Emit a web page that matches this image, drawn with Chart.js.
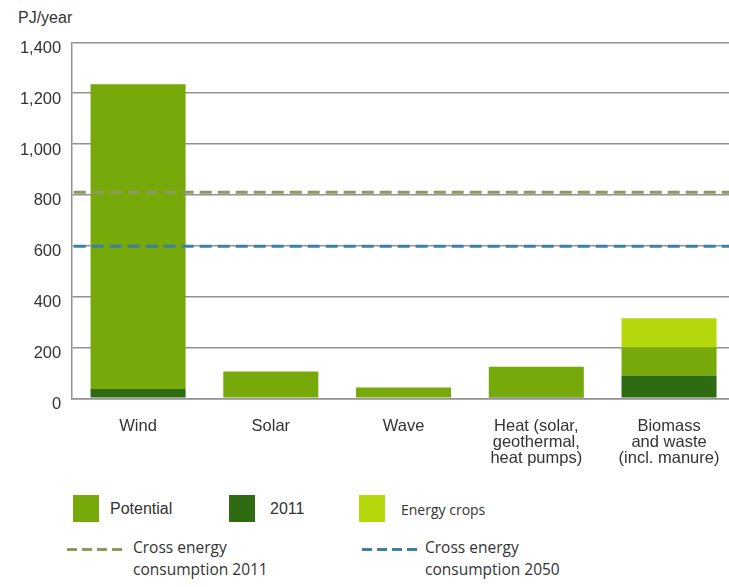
<!DOCTYPE html>
<html>
<head>
<meta charset="utf-8">
<script src="https://cdn.jsdelivr.net/npm/chart.js@4"></script>
<style>
    html, body { margin: 0; padding: 0; background: #ffffff; overflow: hidden; }
    body { width: 729px; height: 587px; position: relative; }
    #unit { position: absolute; left: 18px; top: 9px; font: 16px "Liberation Sans", Arial, sans-serif; color: #333333; }
    #chart-box { position: absolute; left: 0; top: 0; width: 740px; height: 470px; }
    .legend-item { position: absolute; color: #333333; white-space: nowrap; }
    .swatch { position: absolute; width: 26px; height: 27px; }
    .dash { position: absolute; height: 3px; width: 55px; }
</style>
</head>
<body>
<div id="unit">PJ/year</div>
<div id="chart-box"><canvas id="chart"></canvas></div>
<div id="legend"></div>
<script>
// Renewable energy potential per source, PJ/year
const categories = [
    ["Wind"],
    ["Solar"],
    ["Wave"],
    ["Heat (solar,", "geothermal,", "heat pumps)"],
    ["Biomass", "and waste", "(incl. manure)"]
];
const potential = [1235, 105, 42, 124, 200];
const production2011 = [37, 0, 0, 5, 90];
const energyCrops = [0, 0, 0, 0, 115];

// Gross energy consumption reference levels
const consumption2011 = 810;
const consumption2050 = 598;

const yTicks = { min: 0, max: 1400, step: 200 };

const colors = {
    potential: "#77a90b",
    production2011: "#2f6b10",
    energyCrops: "#b4d80c",
    consumption2011: "#8c9a5f",
    consumption2050: "#3e80a4",
    grid: "#929292",
    text: "#333333"
};

// Potential is stacked on top of what was already produced in 2011
const potentialRest = potential.map((value, i) => value - production2011[i]);

const referenceLines = [
    { value: consumption2011, color: colors.consumption2011 },
    { value: consumption2050, color: colors.consumption2050 }
];

const referenceLinePlugin = {
    id: "referenceLines",
    afterDatasetsDraw(chart) {
        const { ctx, chartArea, scales } = chart;
        ctx.save();
        ctx.lineWidth = 3;
        ctx.setLineDash([12, 6]);
        for (const line of referenceLines) {
            const y = scales.y.getPixelForValue(line.value);
            ctx.strokeStyle = line.color;
            ctx.beginPath();
            ctx.moveTo(chartArea.left + 2, y);
            ctx.lineTo(chartArea.right, y);
            ctx.stroke();
        }
        ctx.restore();
    }
};

const tickFont = { family: "'Liberation Sans', Arial, sans-serif", size: 16.5, lineHeight: 0.98 };

new Chart(document.getElementById("chart"), {
    type: "bar",
    data: {
        labels: categories,
        datasets: [
            { label: "2011", data: production2011, backgroundColor: colors.production2011 },
            { label: "Potential", data: potentialRest, backgroundColor: colors.potential },
            { label: "Energy crops", data: energyCrops, backgroundColor: colors.energyCrops }
        ]
    },
    options: {
        responsive: true,
        maintainAspectRatio: false,
        animation: false,
        layout: { padding: { top: 42.3, right: 4.6, bottom: 0, left: 0 } },
        datasets: { bar: { categoryPercentage: 1, barPercentage: 0.716, borderWidth: 0 } },
        plugins: {
            legend: { display: false },
            tooltip: { enabled: false }
        },
        scales: {
            x: {
                stacked: true,
                grid: { display: false },
                border: { color: colors.grid, width: 1.5 },
                ticks: { color: colors.text, font: tickFont, padding: 12, maxRotation: 0, autoSkip: false },
                afterFit: scale => { scale.height = 71.7; }
            },
            y: {
                stacked: true,
                min: yTicks.min,
                max: yTicks.max,
                grid: { color: colors.grid, lineWidth: 1.5, drawTicks: false },
                border: { color: colors.grid, width: 1.5 },
                ticks: { stepSize: yTicks.step, color: colors.text, font: tickFont, padding: 10.5, labelOffset: 6 },
                afterFit: scale => { scale.width = 71.7; }
            }
        }
    },
    plugins: [referenceLinePlugin]
});

// Legend below the chart
const legend = document.getElementById("legend");

const addSwatch = (left, color, text, textLeft, font) => {
    const swatch = document.createElement("div");
    swatch.className = "swatch";
    swatch.style.left = left + "px";
    swatch.style.top = "495px";
    swatch.style.background = color;
    legend.appendChild(swatch);

    const label = document.createElement("div");
    label.className = "legend-item";
    label.style.left = textLeft + "px";
    label.style.top = "500px";
    label.style.font = font;
    label.textContent = text;
    legend.appendChild(label);
};

const addDash = (left, color, lines, textLeft) => {
    const dash = document.createElement("div");
    dash.className = "dash";
    dash.style.left = left + "px";
    dash.style.top = "548px";
    dash.style.background = `repeating-linear-gradient(to right, ${color} 0 10px, transparent 10px 15px)`;
    legend.appendChild(dash);

    const label = document.createElement("div");
    label.className = "legend-item";
    label.style.left = textLeft + "px";
    label.style.top = "536px";
    label.style.font = "15.5px/22px 'Open Sans', sans-serif";
    label.innerHTML = lines.join("<br>");
    legend.appendChild(label);
};

addSwatch(73, colors.potential, "Potential", 110, "16px 'Liberation Sans', Arial, sans-serif");
addSwatch(229, colors.production2011, "2011", 270, "16px 'Liberation Sans', Arial, sans-serif");
addSwatch(359, colors.energyCrops, "Energy crops", 401, "14px 'Open Sans', sans-serif");
addDash(67, colors.consumption2011, ["Cross energy", "consumption 2011"], 133);
addDash(362, colors.consumption2050, ["Cross energy", "consumption 2050"], 425);
</script>
</body>
</html>
